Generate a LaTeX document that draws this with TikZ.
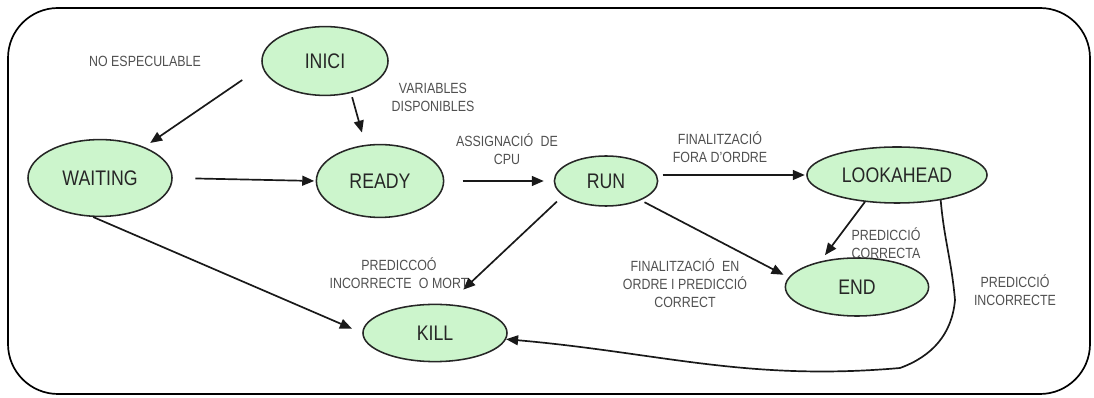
\documentclass[tikz,border=0pt]{standalone}
\usepackage{fontspec}
\setmainfont{Liberation Sans}[FakeStretch=0.84]
\usetikzlibrary{arrows.meta,shapes.geometric}

\definecolor{stategreen}{RGB}{204,245,204}
\definecolor{labelgray}{RGB}{80,80,80}

\tikzset{
  state/.style={ellipse, draw=black!85, line width=1.1pt, fill=stategreen, inner sep=0pt,
    font=\fontsize{15}{17}\selectfont, text=black!85},
  lbl/.style={font=\fontsize{10.5}{12.8}\selectfont, text=labelgray, align=center, inner sep=0pt},
  arr/.style={-{Triangle[length=8.5pt,width=7pt]}, line width=1.2pt, black!90},
}

\begin{document}
\begin{tikzpicture}[x=0.025cm,y=-0.025cm]
\useasboundingbox (0,0) rectangle (1094,398);

% outer frame
\draw[line width=1.2pt, rounded corners=1.25cm] (8,8) rectangle (1090,394);

% states
\node[state, minimum width=3.15cm, minimum height=1.72cm] (inici) at (325,61) {INICI};
\node[state, minimum width=3.6cm, minimum height=1.92cm] (waiting) at (100,178) {WAITING};
\node[state, minimum width=3.18cm, minimum height=1.82cm] (ready) at (380,181) {READY};
\node[state, minimum width=2.58cm, minimum height=1.25cm] (run) at (606,181) {RUN};
\node[state, minimum width=4.5cm, minimum height=1.4cm] (lookahead) at (897,175) {LOOKAHEAD};
\node[state, minimum width=3.58cm, minimum height=1.45cm] (fi) at (857,287) {END};
\node[state, minimum width=3.6cm, minimum height=1.43cm] (kill) at (435,333) {KILL};

% transitions
\draw[arr, shorten <=17pt, shorten >=5pt] (inici.185) -- (waiting.35);
\draw[arr, shorten <=3pt, shorten >=9pt] (inici.-51) -- (ready.112);
\draw[arr, shorten <=16pt, shorten >=1pt] (waiting.east) -- (ready.west);
\draw[arr, shorten <=13pt, shorten >=7pt] (ready.east) -- (run.west);
\draw[arr, shorten <=3pt, shorten >=1pt] (run.east |- lookahead.west) -- (lookahead.west);
\draw[arr, shorten <=6pt, shorten >=15pt] (run.199) -- (kill.66);
\draw[arr, shorten <=3pt, shorten >=4pt] (run.-29) -- (fi.172);
\draw[arr, shorten >=8pt] (waiting.-100) -- (kill.west);
\draw[arr, shorten >=5.5pt] (lookahead.220) -- (fi.145);

% the long way back to kill
\coordinate (turn) at (955,300);
\coordinate (low) at (900,368);
\draw[arr] (lookahead.-30) to[out=-85,in=95] (turn) to[out=-95,in=20] (low)
  to[out=-175,in=-5] (kill.-5);

% labels
\node[lbl] (noesp) at (145,61) {NO ESPECULABLE};
\node[lbl] (vars) at (433,97) {VARIABLES\\DISPONIBLES};
\node[lbl] (assig) at (507,149) {ASSIGNACIÓ\enspace DE\\CPU};
\node[lbl] (fora) at (720,147) {FINALITZACIÓ\\FORA D'ORDRE};
\node[lbl] (mort) at (399,273) {PREDICCOÓ\\INCORRECTE\enspace O MORT};
\node[lbl] (ordre) at (685,283) {FINALITZACIÓ\enspace EN\\ORDRE I PREDICCIÓ\\CORRECT};
\node[lbl] (correcta) at (886,243) {PREDICCIÓ\\CORRECTA};
\node[lbl] (incorr) at (1015,290) {PREDICCIÓ\\INCORRECTE};

\end{tikzpicture}
\end{document}
